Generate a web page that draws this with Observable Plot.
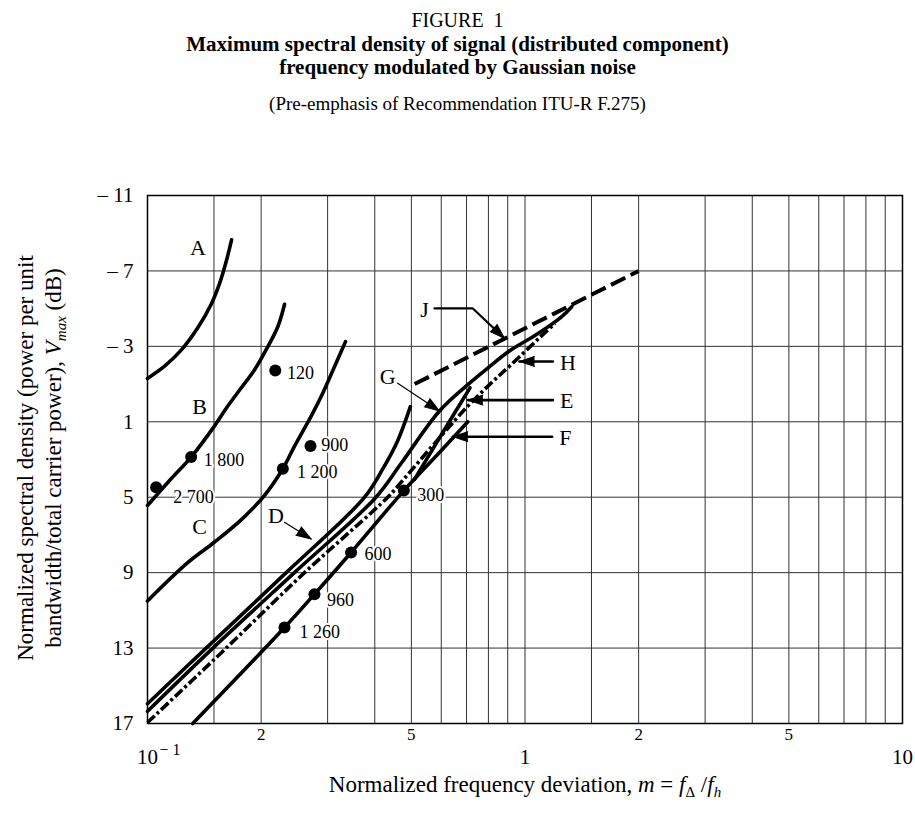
<!DOCTYPE html>
<html><head><meta charset="utf-8">
<script src="https://cdn.jsdelivr.net/npm/d3@7"></script>
<script src="https://cdn.jsdelivr.net/npm/@observablehq/plot@0.6"></script>
<style>
body{margin:0;background:#fff;}
#wrap{position:relative;width:915px;height:818px;font-family:"Liberation Serif","Times New Roman",serif;color:#000;overflow:hidden;}
.t{position:absolute;left:0;width:915px;text-align:center;white-space:nowrap;}
#chart{position:absolute;left:0;top:0;}
#ytitle{position:absolute;left:40px;top:458px;transform:translate(-50%,-50%) rotate(-90deg);white-space:nowrap;text-align:center;font-size:23px;line-height:28px;}
#xtitle{position:absolute;left:525px;top:785px;transform:translate(-50%,-50%);white-space:nowrap;font-size:23px;}
sub{font-size:15px;vertical-align:-5px;line-height:0;}
</style></head><body>
<div id="wrap">
  <div id="chart"></div>
  <div class="t" style="top:9px;font-size:20px;line-height:23px">FIGURE&nbsp;&nbsp;1</div>
  <div class="t" style="top:32px;font-size:21px;font-weight:bold;line-height:24px">Maximum spectral density of signal (distributed component)</div>
  <div class="t" style="top:55px;font-size:21px;font-weight:bold;line-height:24px">frequency modulated by Gaussian noise</div>
  <div class="t" style="top:93px;font-size:19px;line-height:22px">(Pre-emphasis of Recommendation ITU-R F.275)</div>
  <div id="ytitle">Normalized spectral density (power per unit<br>bandwidth/total carrier power), <i>V<sub>max</sub></i> (dB)</div>
  <div id="xtitle">Normalized frequency deviation, <i>m</i> = <i>f</i><sub>Δ</sub> /<i>f<sub>h</sub></i></div>
</div>
<script>
// ---- data (x = normalized frequency deviation m, y = V_max in dB) ----
const curveA = [[0.1,-1.3],[0.111,-1.95],[0.1228,-2.8],[0.136,-4.0],[0.1476,-5.25],[0.155,-6.3],[0.1616,-7.5],[0.167,-8.65]];
const curveB = [[0.1,5.44],[0.1155,4.02],[0.1305,2.87],[0.1504,1.23],[0.163,0.18],[0.177,-0.79],[0.192,-1.75],[0.206,-2.81],[0.2214,-4.04],[0.2307,-5.23]];
const curveC = [[0.1,10.5],[0.128,8.46],[0.15,7.4],[0.177,6.2],[0.204,4.91],[0.2283,3.49],[0.245,2.3],[0.2714,0.7],[0.2914,-0.53],[0.313,-1.93],[0.3346,-3.25]];
const curveD = [[0.1,15.95],[0.143,13],[0.233,9],[0.376,5],[0.42,3.5],[0.46,2.0],[0.497,0.2]];
const curveG = [[0.1,16.35],[0.149,13],[0.245,9],[0.403,5],[0.47,3.2],[0.5935,0.43],[0.7057,-0.97],[0.797,-1.85],[0.919,-2.82],[1.06,-3.56],[1.247,-4.55],[1.33,-5.1]];
const curveH = [[0.1,16.95],[0.1616,13],[0.2606,9],[0.433,5],[0.47,4.2],[0.5995,1.75],[0.7057,0.17],[0.8137,-1.06],[0.919,-2.03],[1.149,-3.87],[1.2,-4.2]];
const curveF = [[0.1318,17],[0.2306,11.91],[0.2769,10.14],[0.3462,7.93],[0.4776,4.65],[0.59,2.68],[0.7057,1.0]];
const curveE = [[0.51,4.05],[0.6,1.7],[0.715,-0.8]];
const curveJ = [[0.51,-1.0],[2.0,-7.0]];

const dotsX = [0.218,0.1305,0.1054,0.2703,0.2283,0.2306,0.2769,0.3462,0.4776];
const dotsY = [-1.72,2.87,4.47,2.29,3.49,11.91,10.14,7.93,4.65];
const dotLabels = ["120","1 800","2 700","900","1 200","1 260","960","600","300"];
const dotLabelX = [0.234,0.141,0.117,0.2884,0.249,0.2527,0.299,0.3757,0.518];
const dotLabelY = [-1.6,3.05,5.0,2.25,3.67,12.18,10.44,8.05,4.92];

const letters = ["A","B","C","D","G","J","H","E","F"];
const letterX = [0.136,0.1374,0.1374,0.219,0.433,0.5417,1.299,1.29,1.28];
const letterY = [-8.2,0.2,6.6,5.98,-1.4,-4.93,-2.11,-0.09,1.84];

// leader lines for labels (last point = arrow tip)
const leaderD = [[0.2306,6.33],[0.2714,7.22]];
const leaderG = [[0.46,-1.05],[0.5935,0.43]];
const leaderJ = [[0.5757,-5.01],[0.7275,-5.01],[0.882,-3.43]];
const leaderH = [[1.185,-2.2],[0.967,-2.2]];
const leaderE = [[1.185,-0.15],[0.7057,-0.15]];
const leaderF = [[1.18,1.79],[0.644,1.79]];

const xGrid = [0.15,0.2,0.3,0.4,0.5,0.6,0.7,0.8,0.9,1,1.5,2,3,4,5,6,7,8,9];
const yGrid = [-7,-3,1,5,9,13];
const yTicks = [-11,-7,-3,1,5,9,13,17];
const yTickLabels = ["– 11","– 7","– 3","1","5","9","13","17"];
const xMinorTicks = [0.2,0.5,2,5];
const xMinorLabels = ["2","5","2","5"];
const xMajorTicks = [0.1,1,10];
const xMajorLabels = ["10","1","10"];

// ---- layout ----
const W = 915, H = 818, mT = 195, mB = 95, mL = 147, mR = 13;
const xDomain = [0.1,10], yDomain = [-11,17];
const sx = Plot.scale({x:{type:"log",domain:xDomain,range:[mL,W-mR]}});
const sy = Plot.scale({y:{domain:yDomain,range:[mT,H-mB]}});

const leaders = [
  {pts:leaderD,w:1.2},{pts:leaderG,w:1.2},{pts:leaderJ,w:2.2},
  {pts:leaderH,w:2.6},{pts:leaderE,w:2.6},{pts:leaderF,w:2.6}
];
const heads = leaders.map(l => {
  const a = l.pts[l.pts.length-2], b = l.pts[l.pts.length-1];
  const dx = sx.apply(b[0]) - sx.apply(a[0]);
  const dy = sy.apply(b[1]) - sy.apply(a[1]);
  return {x:b[0], y:b[1], angle: Math.atan2(dx,-dy)*180/Math.PI};
});

const P = d => d[0], Q = d => d[1];
const curveStyle = {x:P, y:Q, stroke:"black", strokeWidth:3.6, curve:"catmull-rom"};

const plot = Plot.plot({
  width:W, height:H, marginTop:mT, marginBottom:mB, marginLeft:mL, marginRight:mR,
  x:{type:"log", domain:xDomain, axis:null},
  y:{domain:yDomain, reverse:true, axis:null},
  style:{fontFamily:"'Liberation Serif','Times New Roman',serif", background:"white", color:"black"},
  marks:[
    Plot.ruleX(xGrid, {stroke:"#333", strokeWidth:1}),
    Plot.ruleY(yGrid, {stroke:"#333", strokeWidth:1}),
    Plot.frame({stroke:"black", strokeWidth:1.5}),
    // curves
    Plot.line(curveA, curveStyle),
    Plot.line(curveB, curveStyle),
    Plot.line(curveC, curveStyle),
    Plot.line(curveD, curveStyle),
    Plot.line(curveG, curveStyle),
    Plot.line(curveF, curveStyle),
    Plot.line(curveE, curveStyle),
    Plot.line(curveH, {...curveStyle, strokeDasharray:"10,3,3,3", strokeLinecap:"butt"}),
    Plot.line(curveJ, {...curveStyle, strokeWidth:4, strokeDasharray:"16,6", strokeLinecap:"butt"}),
    // point labels (white halo breaks the grid like the original)
    Plot.text(dotLabels, {x:(d,i)=>dotLabelX[i], y:(d,i)=>dotLabelY[i], text:d=>d, textAnchor:"start",
      fontSize:18, fill:"black", stroke:"white", strokeWidth:4}),
    Plot.dot(dotLabels, {x:(d,i)=>dotsX[i], y:(d,i)=>dotsY[i], r:6, fill:"black", stroke:"none"}),
    // leaders + heads
    ...leaders.map(l => Plot.line(l.pts, {x:P, y:Q, stroke:"black", strokeWidth:l.w})),
    Plot.vector(heads, {x:"x", y:"y", rotate:"angle", length:15, shape:"spike", r:5, anchor:"end", fill:"black", stroke:"black", strokeWidth:1}),
    // curve letters
    Plot.text(letters, {x:(d,i)=>letterX[i], y:(d,i)=>letterY[i], text:d=>d, fontSize:22, fill:"black"}),
    // y tick labels
    Plot.text(yTicks, {frameAnchor:"left", y:d=>d, text:(d,i)=>yTickLabels[i], textAnchor:"end", dx:-14, fontSize:21, fill:"black"}),
    // x tick labels
    Plot.text(xMinorTicks, {frameAnchor:"bottom", x:d=>d, text:(d,i)=>xMinorLabels[i], dy:16, fontSize:17, fill:"black"}),
    Plot.text(xMajorTicks, {frameAnchor:"bottom", x:d=>d, text:(d,i)=>xMajorLabels[i], dy:40, fontSize:21, fill:"black"}),
    Plot.text([xMajorTicks[0]], {frameAnchor:"bottom", x:d=>d, text:()=> "− 1", dx:12, dy:31, textAnchor:"start", fontSize:16, fill:"black"})
  ]
});
document.getElementById("chart").appendChild(plot);
</script>
</body></html>
